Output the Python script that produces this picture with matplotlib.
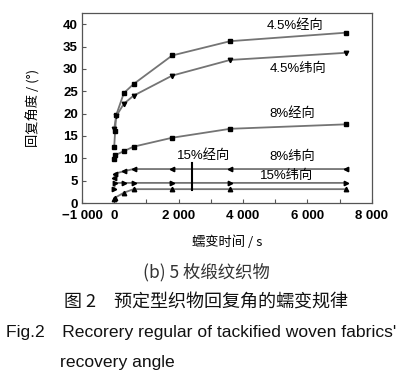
import numpy as np
import matplotlib
matplotlib.use('Agg')
import matplotlib.pyplot as plt

# creep time (s) and recovery angle (deg) for each series
t_45j = [0, 30, 60, 300, 600, 1800, 3600, 7200]
y_45j = [12.5, 16.2, 19.6, 24.6, 26.6, 33.0, 36.2, 38.1]
t_45w = [0, 60, 300, 600, 1800, 3600, 7200]
y_45w = [16.6, 19.4, 22.2, 24.0, 28.5, 32.0, 33.6]
t_8j = [0, 30, 300, 600, 1800, 3600, 7200]
y_8j = [9.8, 10.7, 11.6, 12.6, 14.6, 16.6, 17.6]
t_8w = [0, 30, 300, 600, 1800, 3600, 7200]
y_8w = [5.7, 6.6, 7.1, 7.6, 7.6, 7.6, 7.6]
t_15w = [0, 30, 300, 600, 1800, 3600, 7200]
y_15w = [3.2, 4.5, 4.5, 4.5, 4.5, 4.5, 4.5]
t_15j = [0, 30, 300, 600, 1800, 3600, 7200]
y_15j = [0.8, 1.2, 2.3, 3.1, 3.1, 3.1, 3.1]

xticks = [-1000, 0, 2000, 4000, 6000, 8000]
xtick_labels = ['\u22121 000', '0', '2 000', '4 000', '6 000', '8 000']
yticks = [0, 5, 10, 15, 20, 25, 30, 35, 40]

fam = ['Liberation Sans', 'Noto Sans CJK SC']
cjk = ['Noto Sans CJK SC', 'DejaVu Sans']
tickfont = {'family': 'Liberation Sans', 'weight': 'bold', 'size': 9.5}

fig = plt.figure(figsize=(4.13, 3.77), dpi=100)
ax = fig.add_axes([0.1985, 0.4615, 0.702, 0.504])

series = [(t_45j, y_45j, 's'), (t_45w, y_45w, 'v'), (t_8j, y_8j, 's'),
          (t_8w, y_8w, '<'), (t_15w, y_15w, '>'), (t_15j, y_15j, '^')]
for t, y, mk in series:
    ax.plot(t, y, color='#747474', lw=1.3, marker=mk, ms=3.2,
            mfc='black', mec='black')

# pointer for the 15% warp label
ax.plot([2400, 2400], [3.0, 8.9], color='black', lw=1.5)

ax.set_xlim(-1000, 8000)
ax.set_ylim(0, 42.5)
ax.set_xticks(xticks)
ax.set_xticklabels(xtick_labels, fontdict=tickfont)
ax.set_xticks(np.arange(0, 8001, 1000), minor=True)
ax.set_yticks(yticks)
ax.set_yticklabels([str(v) for v in yticks], fontdict=tickfont)
ax.tick_params(axis='x', direction='in', length=3, width=0.8, color='#555555', pad=5)
ax.tick_params(axis='y', direction='in', length=3, width=0.8, color='#555555', pad=3)
ax.tick_params(which='minor', direction='in', length=3, width=0.8, color='#555555')
for s in ax.spines.values():
    s.set_color('#555555')
    s.set_linewidth(0.9)

labels = [('4.5%经向', 5600, 39.6), ('4.5%纬向', 5700, 30.0), ('8%经向', 5540, 20.1),
          ('15%经向', 2770, 10.6), ('8%纬向', 5540, 10.3), ('15%纬向', 5350, 6.0)]
for txt, x, y in labels:
    ax.text(x, y, txt, family=fam, fontsize=9.5, ha='center', va='center')

ax.set_xlabel('蠕变时间 / s', family=cjk, fontsize=9.5, labelpad=10)
ax.set_ylabel('回复角度 / (°)', family=cjk, fontsize=9.5, labelpad=16)

fig.text(0.5, 1 - 272 / 377, '(b) 5 枚缎纹织物', family=cjk, fontsize=12.5,
         ha='center', va='center', color='#333333')
fig.text(0.5, 1 - 303 / 377, '图 2　预定型织物回复角的蠕变规律', family=cjk,
         fontsize=13, ha='center', va='center', color='#111111')
fig.text(6 / 413, 1 - 332 / 377, "Fig.2　Recorery regular of tackified woven fabrics'",
         family=fam, fontsize=12.6, ha='left', va='center', color='#111111')
fig.text(60 / 413, 1 - 362 / 377, 'recovery angle', family=fam, fontsize=12.6,
         ha='left', va='center', color='#111111')

fig.savefig('out.png', dpi=100)
